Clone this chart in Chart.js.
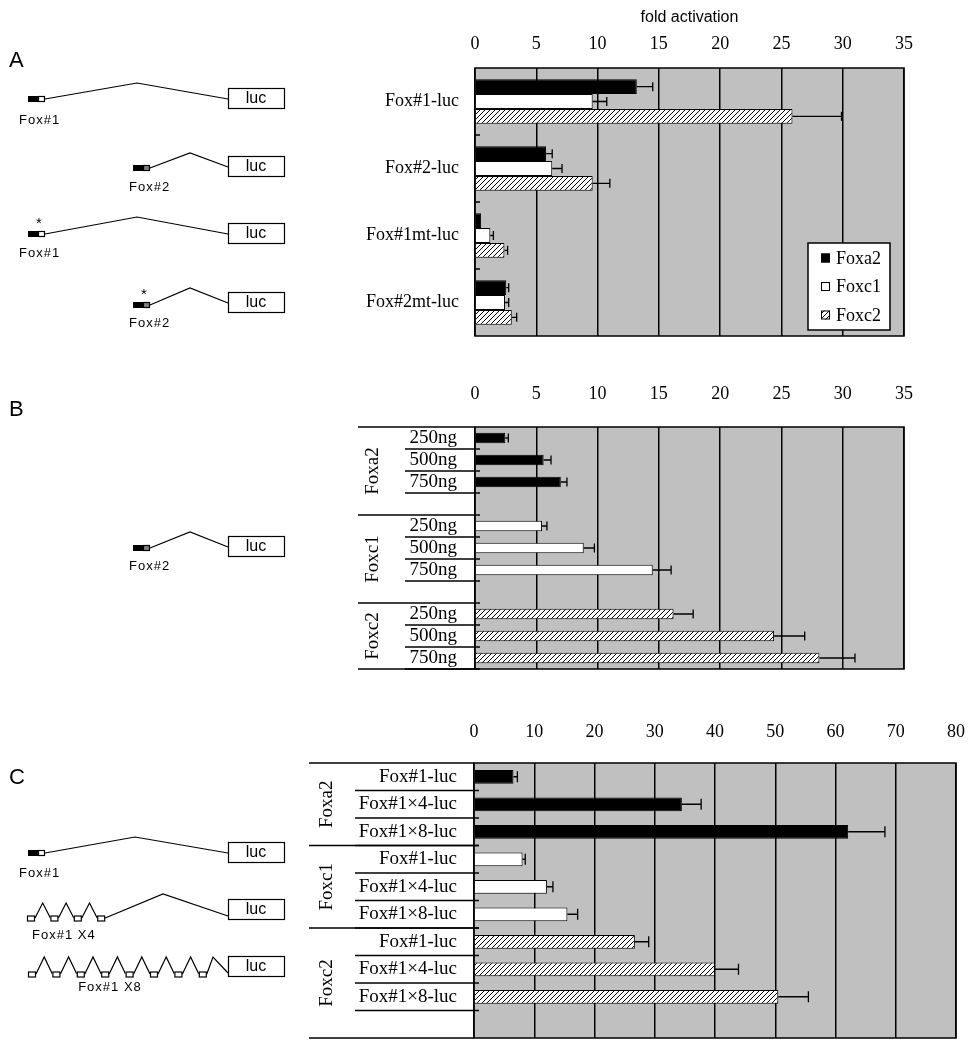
<!DOCTYPE html>
<html>
<head>
<meta charset="utf-8">
<script src="https://cdn.jsdelivr.net/npm/chart.js@4.4.1/dist/chart.umd.min.js"></script>
<style>
  html, body { margin: 0; padding: 0; background: #fff; }
  #wrap { position: relative; width: 976px; height: 1050px; }
  canvas { position: absolute; left: 0; }
</style>
</head>
<body>
<div id="wrap">
  <canvas id="diagram" width="976" height="1050" style="top:0"></canvas>
  <canvas id="chartA" width="976" height="345" style="top:0"></canvas>
  <canvas id="chartB" width="976" height="330" style="top:350px"></canvas>
  <canvas id="chartC" width="976" height="360" style="top:690px"></canvas>
</div>
<script>
// ---- data ----
const factors = ['Foxa2', 'Foxc1', 'Foxc2'];

// A: reporters
const reportersA = ['Fox#1-luc', 'Fox#2-luc', 'Fox#1mt-luc', 'Fox#2mt-luc'];
const foxa2A = [13.2, 5.8, 0.5, 2.55];
const foxa2ErrA = [1.3, 0.5, 0, 0.2];
const foxc1A = [9.6, 6.3, 1.25, 2.45];
const foxc1ErrA = [1.15, 0.8, 0.25, 0.3];
const foxc2A = [25.9, 9.6, 2.4, 3.0];
const foxc2ErrA = [4.0, 1.4, 0.26, 0.4];

// B: dose response on Fox#2-luc
const dosesB = ['250ng', '500ng', '750ng'];
const foxa2B = [2.47, 5.6, 7.0];
const foxa2ErrB = [0.25, 0.6, 0.5];
const foxc1B = [5.47, 8.87, 14.5];
const foxc1ErrB = [0.4, 0.87, 1.5];
const foxc2B = [16.2, 24.4, 28.1];
const foxc2ErrB = [1.6, 2.5, 2.9];

// C: multimerized sites
const reportersC = ['Fox#1-luc', 'Fox#1\u00d74-luc', 'Fox#1\u00d78-luc'];
const foxa2C = [6.55, 34.5, 62.1];
const foxa2ErrC = [0.65, 3.2, 6.1];
const foxc1C = [8.06, 12.1, 15.5];
const foxc1ErrC = [0.45, 1.0, 1.7];
const foxc2C = [26.7, 40.0, 50.5];
const foxc2ErrC = [2.3, 3.9, 5.0];

const ticksAB = [0, 5, 10, 15, 20, 25, 30, 35];
const ticksC = [0, 10, 20, 30, 40, 50, 60, 70, 80];

// ---- styles ----
const SERIF = 'Liberation Serif';
const SANS = 'Liberation Sans';
Chart.defaults.font.family = SERIF;
Chart.defaults.color = '#000';

const hatch = (function () {
  const c = document.createElement('canvas');
  c.width = 5; c.height = 5;
  const g = c.getContext('2d');
  g.fillStyle = '#fff'; g.fillRect(0, 0, 5, 5);
  g.strokeStyle = '#000'; g.lineWidth = 1;
  g.beginPath();
  g.moveTo(0, 5); g.lineTo(5, 0);
  g.moveTo(-1, 1); g.lineTo(1, -1);
  g.moveTo(4, 6); g.lineTo(6, 4);
  g.stroke();
  return g.createPattern(c, 'repeat');
})();
const fills = ['#000', '#fff', hatch];

// rows of B / C: groups stacked one after another, padded with empty rows
function stack(subLabels, sizes, series, errs) {
  const labels = [], groups = [];
  let start = 0;
  sizes.forEach(n => {
    for (let i = 0; i < n; i++) labels.push(subLabels[i] || '');
    groups.push([start, start + n]);
    start += n;
  });
  const place = (vals, g) => labels.map((_, i) => {
    const k = i - groups[g][0];
    return (k >= 0 && k < vals.length) ? vals[k] : null;
  });
  return {
    labels, groups,
    data: series.map(place),
    errors: errs.map(place)
  };
}

function panelPlugin(cfg) {
  return {
    id: 'panel',
    beforeDraw(chart) {
      const a = chart.chartArea, c = chart.ctx;
      c.save();
      c.fillStyle = '#c0c0c0';
      c.fillRect(a.left, a.top, a.right - a.left, a.bottom - a.top);
      c.restore();
    },
    afterDraw(chart) {
      const a = chart.chartArea, c = chart.ctx;
      const x = chart.scales.x, y = chart.scales.y;
      const n = chart.data.labels.length;
      const bound = k => y.getPixelForValue(k - 0.5);
      c.save();
      c.strokeStyle = '#000';
      c.lineWidth = 1.5;
      c.strokeRect(a.left, a.top, a.right - a.left, a.bottom - a.top);

      // error bars (upper side only)
      chart.data.datasets.forEach((ds, di) => {
        const meta = chart.getDatasetMeta(di);
        ds.data.forEach((v, i) => {
          const e = ds.errors[i];
          if (v == null || !e) return;
          const yy = meta.data[i].y;
          const x0 = x.getPixelForValue(v), x1 = x.getPixelForValue(v + e);
          c.lineWidth = 1.3;
          c.beginPath();
          c.moveTo(x0, yy); c.lineTo(x1, yy);
          c.moveTo(x1, yy - cfg.cap); c.lineTo(x1, yy + cfg.cap);
          c.stroke();
        });
      });

      c.lineWidth = 1.5;
      if (cfg.insideTicks) {
        for (let k = 1; k < n; k++) {
          c.beginPath();
          c.moveTo(a.left, bound(k)); c.lineTo(a.left + 5, bound(k));
          c.stroke();
        }
      }

      if (cfg.groups) {
        // line under every labelled row
        chart.data.labels.forEach((lab, i) => {
          if (!lab) return;
          const yy = bound(i + 1);
          c.beginPath();
          c.moveTo(cfg.subLeft, yy); c.lineTo(a.left + 5, yy);
          c.stroke();
        });
        // group separators and names
        const edges = [0].concat(cfg.groups.map(g => g[1]));
        edges.forEach(k => {
          const yy = bound(k);
          c.beginPath();
          c.moveTo(cfg.groupLeft, yy);
          c.lineTo(a.left + ((k === 0 || k === n) ? 0 : 5), yy);
          c.stroke();
        });
        c.fillStyle = '#000';
        c.font = '19px ' + SERIF;
        c.textAlign = 'center';
        c.textBaseline = 'middle';
        cfg.groups.forEach((g, gi) => {
          const yy = (bound(g[0]) + bound(g[1])) / 2;
          c.save();
          c.translate(cfg.groupX, yy);
          c.rotate(-Math.PI / 2);
          c.fillText(cfg.groupNames[gi], 0, 0);
          c.restore();
        });
      }

      if (cfg.legend) {
        const L = a.right - 96, T = a.bottom - 93;
        c.fillStyle = '#fff';
        c.fillRect(L, T, 82, 87);
        c.lineWidth = 1.5;
        c.strokeRect(L, T, 82, 87);
        c.font = '18px ' + SERIF;
        c.textAlign = 'left';
        c.textBaseline = 'middle';
        chart.data.datasets.forEach((ds, i) => {
          const yy = T + 15 + i * 28.5;
          c.fillStyle = ds.backgroundColor;
          c.fillRect(L + 13, yy - 4.5, 9, 9);
          c.lineWidth = 1;
          c.strokeRect(L + 13.5, yy - 4, 8, 8);
          c.fillStyle = '#000';
          c.fillText(ds.label, L + 28, yy + 1);
        });
      }
      c.restore();
    }
  };
}

function makeChart(id, opt) {
  const t = opt.ticks;
  return new Chart(document.getElementById(id), {
    type: 'bar',
    data: {
      labels: opt.labels,
      datasets: factors.map((f, i) => ({
        label: f,
        data: opt.data[i],
        errors: opt.errors[i],
        backgroundColor: fills[i],
        borderColor: '#000',
        borderWidth: 1,
        grouped: opt.grouped,
        barPercentage: opt.barPct,
        categoryPercentage: opt.catPct
      }))
    },
    options: {
      indexAxis: 'y',
      responsive: false,
      animation: false,
      devicePixelRatio: 1,
      layout: { padding: { left: 0, top: 0, right: opt.padRight, bottom: opt.padBottom } },
      plugins: { legend: { display: false }, tooltip: { enabled: false } },
      scales: {
        x: {
          position: 'top',
          min: t[0], max: t[t.length - 1],
          ticks: { stepSize: t[1] - t[0], autoSkip: false, maxRotation: 0,
                   padding: opt.tickPad, font: { size: 18 } },
          grid: { color: '#000', lineWidth: 1.5, drawTicks: false },
          border: { display: false },
          title: opt.title ? { display: true, text: opt.title, color: '#000',
                   font: { family: SANS, size: 16 }, padding: { top: 8, bottom: 0 } }
                 : { display: false },
          afterFit: s => { s.height = opt.top; s.paddingLeft = 0; s.paddingRight = 0; }
        },
        y: {
          grid: { display: false, drawTicks: false },
          border: { display: false },
          ticks: { padding: opt.labelPad, font: { size: opt.labelSize }, autoSkip: false },
          afterFit: s => { s.width = opt.left; s.paddingTop = 0; s.paddingBottom = 0; }
        }
      }
    },
    plugins: [panelPlugin(opt.panel)]
  });
}

// ---- chart A ----
makeChart('chartA', {
  labels: reportersA,
  data: [foxa2A, foxc1A, foxc2A],
  errors: [foxa2ErrA, foxc1ErrA, foxc2ErrA],
  grouped: true, barPct: 1.0, catPct: 0.665,
  ticks: ticksAB, title: 'fold activation',
  top: 68, left: 475, padRight: 72, padBottom: 9,
  tickPad: 13, labelPad: 16, labelSize: 18,
  panel: { cap: 4.5, insideTicks: true, legend: true }
});

// ---- chart B ----
const rowsB = stack(dosesB, [4, 4, 3], [foxa2B, foxc1B, foxc2B], [foxa2ErrB, foxc1ErrB, foxc2ErrB]);
makeChart('chartB', {
  labels: rowsB.labels, data: rowsB.data, errors: rowsB.errors,
  grouped: false, barPct: 0.48, catPct: 1.0,
  ticks: ticksAB,
  top: 77, left: 475, padRight: 72, padBottom: 11,
  tickPad: 22, labelPad: 18, labelSize: 19,
  panel: { cap: 4.5, groups: rowsB.groups, groupNames: factors,
           subLeft: 405, groupLeft: 358, groupX: 373 }
});

// ---- chart C ----
const rowsC = stack(reportersC, [3, 3, 4], [foxa2C, foxc1C, foxc2C], [foxa2ErrC, foxc1ErrC, foxc2ErrC]);
makeChart('chartC', {
  labels: rowsC.labels, data: rowsC.data, errors: rowsC.errors,
  grouped: false, barPct: 0.5, catPct: 1.0,
  ticks: ticksC,
  top: 73, left: 474, padRight: 20, padBottom: 12,
  tickPad: 20, labelPad: 17, labelSize: 19,
  panel: { cap: 5.5, groups: rowsC.groups, groupNames: factors,
           subLeft: 355, groupLeft: 309, groupX: 327 }
});

// ---- reporter construct sketches (left column) ----
const d = document.getElementById('diagram').getContext('2d');
d.strokeStyle = '#000';
d.lineWidth = 1.2;

function site(x, y, kind) {
  d.fillStyle = '#000';
  d.fillRect(x, y - 3, 10, 6);
  d.fillStyle = kind === 2 ? '#808080' : '#fff';
  d.fillRect(x + 10, y - 3, 7, 6);
  d.strokeRect(x + 10.5, y - 2.5, 6, 5);
}
function lucBox(x, top) {
  d.fillStyle = '#fff';
  d.fillRect(x, top, 57, 21);
  d.strokeRect(x + 0.5, top + 0.5, 56, 20);
  d.fillStyle = '#000';
  d.font = '16px ' + SANS;
  d.textAlign = 'center';
  d.textBaseline = 'middle';
  d.fillText('luc', x + 28, top + 11);
}
function path(pts) {
  d.beginPath();
  d.moveTo(pts[0][0], pts[0][1]);
  pts.slice(1).forEach(p => d.lineTo(p[0], p[1]));
  d.stroke();
}
function label(text, x, y, align) {
  d.fillStyle = '#000';
  d.font = '13px ' + SANS;
  d.textAlign = align || 'left';
  d.textBaseline = 'middle';
  if ('letterSpacing' in d) d.letterSpacing = '1px';
  d.fillText(text, x, y);
  if ('letterSpacing' in d) d.letterSpacing = '0px';
}
function star(x, y) {
  d.fillStyle = '#000';
  d.font = '15px ' + SANS;
  d.textAlign = 'center';
  d.textBaseline = 'middle';
  d.fillText('*', x, y);
}
function single(x, y, kind, peak, lucTop, name, lx, ly) {
  site(x, y, kind);
  path([[x + 17, y], peak, [228, lucTop + 11]]);
  lucBox(228, lucTop);
  label(name, lx, ly);
}
function repeat(count, x0, step, y, peakY, lastPeak, lucTop) {
  for (let i = 0; i < count; i++) {
    const x = x0 + i * step;
    d.fillStyle = '#fff';
    d.fillRect(x, y - 2.5, 8, 5);
    d.strokeRect(x + 0.5, y - 2, 7, 5);
    if (i < count - 1) path([[x + 8, y], [x + step / 2 + 4, peakY], [x + step, y]]);
  }
  const xe = x0 + (count - 1) * step + 8;
  path([[xe, y], lastPeak, [228, lucTop + 17]]);
  lucBox(228, lucTop);
}

function panelLetter(t, y) {
  d.fillStyle = '#000';
  d.font = '22px ' + SANS;
  d.textAlign = 'left';
  d.textBaseline = 'alphabetic';
  d.fillText(t, 9, y);
}

panelLetter('A', 67);
single(28, 99, 1, [137, 83], 88, 'Fox#1', 19, 120);
single(133, 168, 2, [190, 153], 156, 'Fox#2', 129, 187);
single(28, 234, 1, [137, 217], 223, 'Fox#1', 19, 253);
star(39, 224);
single(133, 305, 2, [190, 288], 292, 'Fox#2', 129, 323);
star(144, 295);

panelLetter('B', 416);
single(133, 548, 2, [190, 532], 536, 'Fox#2', 129, 566);

panelLetter('C', 784);
single(28, 853, 1, [135, 837], 842, 'Fox#1', 19, 873);
repeat(4, 27, 23.4, 918, 903, [163, 894], 899);
label('Fox#1 X4', 32, 935);
repeat(8, 28, 24.4, 974, 957, [213, 957], 956);
label('Fox#1 X8', 110, 987, 'center');
</script>
</body>
</html>
